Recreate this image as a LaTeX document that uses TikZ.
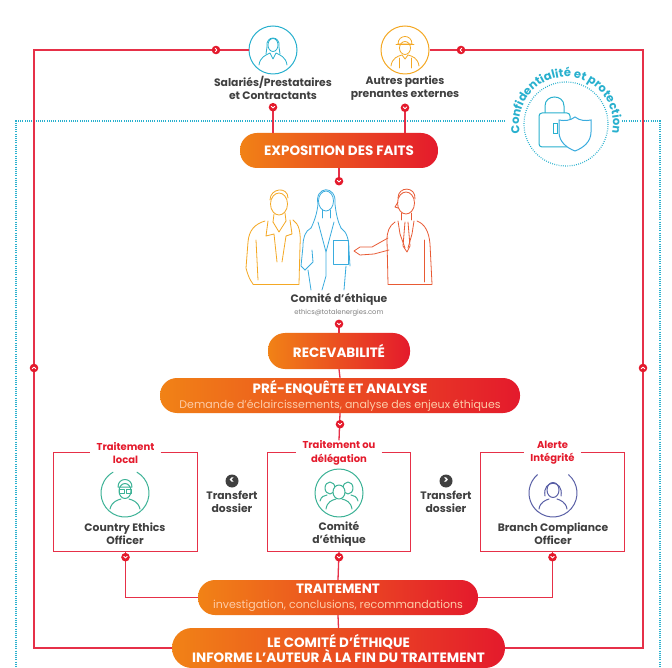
\documentclass[tikz,border=0pt]{standalone}
\usepackage{fontspec}
\setmainfont{Poppins}
\usetikzlibrary{calc,positioning,decorations.text}

\definecolor{tRed}{RGB}{228,26,44}
\definecolor{tOrange}{RGB}{241,130,22}
\definecolor{tLine}{RGB}{230,48,72}
\definecolor{tTeal}{RGB}{40,176,206}
\definecolor{tGreen}{RGB}{60,178,150}
\definecolor{tPurple}{RGB}{90,96,166}
\definecolor{tGray}{RGB}{64,64,64}
\definecolor{tPeach}{RGB}{253,204,168}
\definecolor{tAmber}{RGB}{244,168,36}
\definecolor{tSky}{RGB}{58,172,222}
\definecolor{tBrick}{RGB}{232,90,52}

\tikzset{
  flow/.style={draw=tLine, line width=1.3pt},
  pill/.style={rounded corners=17pt, left color=tOrange, right color=tRed, text=white,
    align=center, inner sep=0pt, font=\bfseries\fontsize{13.5}{15}\selectfont},
  icon/.style={circle, draw=#1, line width=1pt, minimum size=48pt, inner sep=0pt},
  who/.style={font=\bfseries\fontsize{10.8}{13}\selectfont, text=tGray, align=center},
  tag/.style={font=\bfseries\fontsize{10}{13.5}\selectfont, text=tRed, align=center, inner xsep=6pt, inner ysep=0pt},
  hollow/.style={minimum width=143pt, minimum height=98pt, inner sep=0pt},
  swap/.style={circle, fill=tGray, minimum size=13pt, inner sep=0pt, text=white,
    font=\bfseries\fontsize{10}{10}\selectfont},
  sketch/.style={line width=0.8pt, line cap=round, line join=round},
  tdots/.style={draw=tTeal, line width=1.2pt, dash pattern=on 0.8pt off 1.4pt}
}

% red marker with a chevron, turned by #2
\def\flowdot(#1)[#2]{%
  \begin{scope}[shift={(#1)},rotate=#2]
    \fill[tRed] (0,0) circle (4.3);
    \draw[white,line width=0.9pt,line cap=round,line join=round] (-1.7,-0.8) -- (0,0.9) -- (1.7,-0.8);
  \end{scope}}

\begin{document}
\begin{tikzpicture}[x=1pt,y=-1pt]
  \fill[white] (0,0) rectangle (672,668);
  \useasboundingbox (0,0) rectangle (672,668);

  %%% confidentiality frame
  \draw[tdots] (505,121) -- (16,121) -- (16,668);
  \draw[tdots] (622,121) -- (660,121) -- (660,668);
  \draw[tdots] (566,124) circle (42);
  \path[decorate, decoration={text along path, text align=center,
      text={|\bfseries\fontsize{11.5}{11.5}\selectfont\color{tTeal}|Confidentialité et protection}}]
    (566,124) ++(-205:47) arc (-205:25:47);
  % lock and shield
  \draw[tTeal, line width=1pt] (545,113) -- (545,106) .. controls (545,94) and (564,94) .. (564,106) -- (564,113);
  \draw[tTeal, line width=1pt, rounded corners=3pt] (539,113) rectangle (570,147);
  \draw[tTeal, line width=1pt] (553,124) rectangle (557,134);
  \filldraw[fill=white, draw=tSky, line width=1pt] (575,117) .. controls (580,121) and (586,121) .. (591,120)
    -- (591,132) .. controls (591,142) and (583,148) .. (575,151)
    .. controls (567,148) and (559,142) .. (559,132) -- (559,120)
    .. controls (564,121) and (570,121) .. cycle;

  %%% sources
  \node[icon=tTeal] (sal) at (273,50) {};
  \node[icon=tAmber] (aut) at (405,50) {};
  \node[who] (saltxt) at (273,88) {Salariés/Prestataires\\et Contractants};
  \node[who] (auttxt) at (405,88) {Autres parties\\prenantes externes};

  \begin{scope}[shift={(273,50)}, draw=tTeal, sketch]
    \draw (0,-5) ellipse (5 and 6.5);
    \draw (-6,-3) .. controls (-8,-15) and (8,-15) .. (6,-3) -- (7,4);
    \draw (-6,-3) -- (-7,4);
    \draw (-14,15) .. controls (-13,7) and (-7,5) .. (-3,3) -- (0,9) -- (3,3) .. controls (7,5) and (13,7) .. (14,15);
  \end{scope}
  \begin{scope}[shift={(405,50)}, draw=tAmber, sketch]
    \draw (0,-2) ellipse (5.5 and 6.5);
    \draw (-7,-6) .. controls (-7,-16) and (7,-16) .. (7,-6) -- cycle;
    \draw (-9,-6) -- (9,-6);
    \draw (-14,16) .. controls (-13,8) and (-7,6) .. (-3,5) -- (0,9) -- (3,5) .. controls (7,6) and (13,8) .. (14,16);
    \draw (-6,8) -- (-6,18); \draw (6,8) -- (6,18);
  \end{scope}

  %%% main column
  \node[pill, minimum width=198pt, minimum height=35pt] (expo) at (339,150.5) {EXPOSITION DES FAITS};
  \node[who] (comite) at (339,299) {Comité d'éthique};
  \node[font=\fontsize{6.8}{7}\selectfont, text=gray, inner sep=1pt, below=0pt of comite] (mail) {ethics@totalenergies.com};
  \node[pill, minimum width=142pt, minimum height=36pt] (recev) at (339,351) {RECEVABILITÉ};
  \node[pill, minimum width=360pt, minimum height=35pt] (pre) at (340,395.5)
    {PRÉ-ENQUÊTE ET ANALYSE\\{\mdseries\color{tPeach}\fontsize{11}{12}\selectfont Demande d'éclaircissements, analyse des enjeux éthiques}};

  % ethics committee sketch
  \begin{scope}[draw=tAmber, sketch]
    \draw (279,204) ellipse (8.5 and 11);
    \draw (270,200) .. controls (270,188) and (288,186) .. (288,198);
    \draw (274,214) -- (273,222); \draw (285,213) -- (286,221);
    \draw (265,221) .. controls (255,224) and (249,230) .. (248,242) -- (246,268) .. controls (248,276) and (250,280) .. (253,284);
    \draw (293,220) .. controls (299,224) and (301,232) .. (300,246) -- (299,284);
    \draw (268,221) -- (266,236) -- (274,234) -- (277,262);
    \draw (290,220) -- (292,234) -- (286,236) -- (282,262);
    \draw (273,222) -- (279,232) -- (286,221);
    \draw (256,240) -- (258,280);
    \draw (253,284) -- (299,284);
  \end{scope}
  \begin{scope}[draw=tSky, sketch]
    \draw (326,201) ellipse (7.5 and 10);
    \draw (318,204) .. controls (314,186) and (337,184) .. (335,204) .. controls (336,214) and (338,222) .. (341,228);
    \draw (318,204) .. controls (317,214) and (314,222) .. (311,228);
    \draw (322,210) -- (322,218); \draw (330,210) -- (330,218);
    \draw (311,228) .. controls (305,231) and (303,238) .. (303,246) -- (301,266) -- (305,270);
    \draw (341,228) .. controls (347,232) and (349,240) .. (349,250) -- (350,266);
    \draw (318,222) -- (326,252) -- (334,222);
    \draw (305,270) -- (313,262) -- (312,250);
    \draw (333,240) rectangle (348,264);
    \draw (308,270) -- (311,290); \draw (346,266) -- (344,290);
    \draw (326,252) -- (326,276) -- (322,290);
  \end{scope}
  \begin{scope}[draw=tBrick, sketch]
    \draw (406,203) ellipse (8.5 and 11);
    \draw (398,198) .. controls (398,186) and (416,186) .. (415,199);
    \draw (398,202) -- (395,207) -- (398,208);
    \draw (401,213) -- (401,220); \draw (411,213) -- (411,220);
    \draw (395,222) .. controls (389,226) and (387,232) .. (387,240) -- (388,284);
    \draw (417,221) .. controls (425,224) and (429,232) .. (430,244) -- (432,284);
    \draw (405,222) -- (403,246) -- (407,252) -- (410,246) -- (408,222);
    \draw (398,221) -- (400,234) -- (405,248);
    \draw (414,221) -- (412,234) -- (408,248);
    \draw (388,238) -- (372,247) -- (360,247) -- (354,251) -- (360,255) -- (374,254) -- (389,250);
    \draw (424,240) -- (424,282);
    \draw (388,284) -- (432,284);
  \end{scope}

  %%% handling boxes
  \node[hollow] (local) at (125.5,502) {};
  \node[hollow] (deleg) at (339,502) {};
  \node[hollow] (integ) at (552.5,502) {};
  \node[tag] (taglocal) at (local.north) {Traitement\\local};
  \node[tag] (tagdeleg) at (deleg.north) {Traitement ou\\délégation};
  \node[tag] (taginteg) at (integ.north) {Alerte\\Intégrité};
  \foreach \b in {local,deleg,integ}
    \draw[flow] (tag\b.east) -| (\b.south east) -| (\b.north west) -- (tag\b.west);

  \node[who] (ceotxt) at (125,533.5) {Country Ethics\\Officer};
  \node[who] (cettxt) at (339,533.5) {Comité\\d'éthique};
  \node[who] (bcotxt) at (553,533.5) {Branch Compliance\\Officer};

  % country ethics officer
  \begin{scope}[shift={(125,493)}, draw=tGreen, sketch, line width=1pt]
    \draw (-60:24) arc (-60:240:24);
    \draw (0,-2) ellipse (6 and 7.5);
    \draw (-7,-6) .. controls (-7,-16) and (7,-16) .. (7,-6) -- cycle;
    \draw (-6,-4) rectangle (-1,0); \draw (1,-4) rectangle (6,0);
    \draw (-15,16) .. controls (-13,8) and (-7,7) .. (-4,6);
    \draw (4,6) .. controls (7,7) and (13,8) .. (15,16);
  \end{scope}
  % committee
  \begin{scope}[shift={(339,493)}, draw=tGreen, sketch, line width=1pt]
    \draw (0,0) circle (24);
    \draw (-9,-5) ellipse (5 and 6); \draw (9,-5) ellipse (5 and 6);
    \draw (-19,8) .. controls (-18,4) and (-15,2) .. (-12,2);
    \draw (19,8) .. controls (18,4) and (15,2) .. (12,2);
    \filldraw[fill=white] (0,-1) ellipse (6 and 7);
    \draw (-13,16) .. controls (-12,9) and (-7,7) .. (-3,6);
    \draw (3,6) .. controls (7,7) and (12,9) .. (13,16);
  \end{scope}
  % branch compliance officer
  \begin{scope}[shift={(553,493)}, draw=tPurple, sketch, line width=1pt]
    \draw (-50:24) arc (-50:230:24);
    \draw (0,-3) ellipse (6 and 7.5);
    \draw (-8,3) .. controls (-11,-14) and (11,-14) .. (8,3);
    \draw (-14,16) .. controls (-13,9) and (-7,7) .. (-4,6);
    \draw (4,6) .. controls (7,7) and (13,9) .. (14,16);
  \end{scope}

  % file transfers
  \node[swap] (toleft) at (232,481) {<};
  \node[who, below=0pt of toleft] (trleft) {Transfert\\dossier};
  \node[swap] (toright) at (446,481) {>};
  \node[who, below=0pt of toright] (trright) {Transfert\\dossier};

  %%% treatment and feedback
  \node[pill, minimum width=280pt, minimum height=35pt] (trait) at (338,597.5)
    {TRAITEMENT\\{\mdseries\color{tPeach}\fontsize{11}{12}\selectfont investigation, conclusions, recommandations}};
  \node[pill, rounded corners=20pt, minimum width=333pt, minimum height=40pt] (inform) at (338.5,648)
    {LE COMITÉ D'ÉTHIQUE\\INFORME L'AUTEUR À LA FIN DU TRAITEMENT};

  %%% connectors
  \coordinate (nw) at (34,50);
  \coordinate (ne) at (643,50);
  \draw[flow] (sal.west) -- (nw) |- (inform.west);
  \draw[flow] (aut.east) -- (ne) |- (inform.east);
  \draw[flow] (saltxt.south) -- (saltxt.south |- expo.north);
  \draw[flow] (auttxt.south) -- (auttxt.south |- expo.north);
  \draw[flow] (expo.south) -- ++(0,13) coordinate (expodot);
  \draw[flow] (mail.south) ++(0,6) coordinate (recevdot) -- (recev.north);
  \draw[flow] (recev.south) -- (pre.north);
  \draw[flow] (pre.south) -- (tagdeleg.north);
  \draw[flow] (local.south) |- (trait.west);
  \draw[flow] (integ.south) |- (trait.east);
  \draw[flow] (deleg.south) -- (trait.north);
  \draw[flow] (trait.south) -- (inform.north);

  \flowdot(216,50)[90]
  \flowdot(461,50)[-90]
  \flowdot(34,368)[180]
  \flowdot(643,368)[180]
  \flowdot($(saltxt.south)+(0,4)$)[0]
  \flowdot($(auttxt.south)+(0,4)$)[0]
  \flowdot(expodot)[0]
  \flowdot(recevdot)[0]
  \flowdot($(pre.south)+(0,11)$)[0]
  \flowdot($(local.south)+(0,6)$)[0]
  \flowdot($(deleg.south)+(0,6)$)[0]
  \flowdot($(integ.south)+(0,6)$)[0]
\end{tikzpicture}
\end{document}
